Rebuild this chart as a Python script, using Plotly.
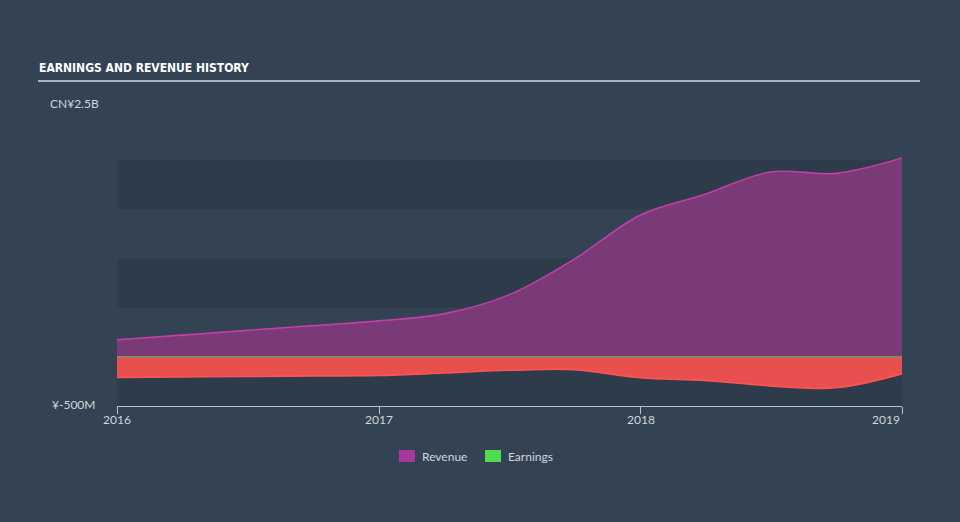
import plotly.graph_objects as go

# ---- data ----
dates = ["2016-01-01", "2016-04-01", "2016-07-01", "2016-10-01",
         "2017-01-01", "2017-04-01", "2017-07-01", "2017-10-01",
         "2018-01-01", "2018-04-01", "2018-07-01", "2018-10-01",
         "2019-01-01"]
revenue = [173, 221, 269, 317, 366, 437, 630, 996, 1443, 1653, 1880, 1866, 2022]
earnings = [-210, -205, -200, -194, -190, -165, -137, -130, -213, -240, -295, -315, -173]
tick_dates = ["2016-01-01", "2017-01-01", "2018-01-01", "2019-01-01"]
tick_labels = ["2016", "2017", "2018", "2019"]
band_ranges = [(-500, 0), (500, 1000), (1500, 2000)]
y_range = [-500, 2500]

W, H = 960, 522
L, R, T, B = 117, 58, 111, 116
PW, PH = W - L - R, H - T - B


def px(x):
    return (x - L) / PW


def py(y):
    return (H - B - y) / PH


BG = "#334353"
BAND = "#2e3b4a"
TXT = "#d2d6da"
FONT = "Lato"

fig = go.Figure()

fig.add_trace(go.Scatter(
    x=dates, y=revenue, mode="lines", line=dict(color="#c23fa6", width=1.6, shape="spline"),
    fill="tozeroy", fillcolor="#7a3977", showlegend=False, hoverinfo="skip"))
fig.add_trace(go.Scatter(
    x=dates, y=earnings, mode="lines", line=dict(color="#ff5454", width=1.6, shape="spline"),
    fill="tozeroy", fillcolor="#e84f4f", showlegend=False, hoverinfo="skip"))
fig.add_trace(go.Scatter(
    x=[dates[0], dates[-1]], y=[0, 0], mode="lines",
    line=dict(color="#6e9c5c", width=1.5), showlegend=False, hoverinfo="skip"))

shapes = []
for y0, y1 in band_ranges:
    shapes.append(dict(type="rect", xref="paper", yref="y", x0=0, x1=1, y0=y0, y1=y1,
                       fillcolor=BAND, line=dict(width=0), layer="below"))
# title underline
shapes.append(dict(type="line", xref="paper", yref="paper", x0=px(38), x1=px(920),
                   y0=py(81), y1=py(81), line=dict(color="#aab2ba", width=2)))
# legend swatches
shapes.append(dict(type="rect", xref="paper", yref="paper", x0=px(399), x1=px(415),
                   y0=py(462), y1=py(450), fillcolor="#a8379c", line=dict(width=0)))
shapes.append(dict(type="rect", xref="paper", yref="paper", x0=px(485), x1=px(501),
                   y0=py(462), y1=py(450), fillcolor="#4fdc4f", line=dict(width=0)))

annotations = [
    dict(text="<b>EARNINGS AND REVENUE HISTORY</b>", xref="paper", yref="paper",
         x=px(37), y=py(68), xanchor="left", yanchor="middle", showarrow=False,
         font=dict(family="DejaVu Sans Condensed, DejaVu Sans", size=12, color="#ffffff")),
    dict(text="CN¥2.5B", xref="paper", yref="paper", x=px(48), y=py(104),
         xanchor="left", yanchor="middle", showarrow=False,
         font=dict(family=FONT, size=12, color=TXT)),
    dict(text="¥-500M", xref="paper", yref="paper", x=px(50), y=py(404),
         xanchor="left", yanchor="middle", showarrow=False,
         font=dict(family=FONT, size=12, color=TXT)),
    dict(text="Revenue", xref="paper", yref="paper", x=px(420), y=py(456),
         xanchor="left", yanchor="middle", showarrow=False,
         font=dict(family=FONT, size=12, color=TXT)),
    dict(text="Earnings", xref="paper", yref="paper", x=px(506), y=py(456),
         xanchor="left", yanchor="middle", showarrow=False,
         font=dict(family=FONT, size=12, color=TXT)),
]
for d, lab in zip(tick_dates, tick_labels):
    anchor = "right" if d == tick_dates[-1] else "center"
    annotations.append(dict(text=lab, xref="x", yref="paper", x=d, y=py(419),
                            xanchor=anchor, yanchor="middle", showarrow=False,
                            font=dict(family=FONT, size=12, color=TXT)))

fig.update_layout(
    width=W, height=H, margin=dict(l=L, r=R, t=T, b=B),
    paper_bgcolor=BG, plot_bgcolor="rgba(0,0,0,0)",
    shapes=shapes, annotations=annotations, showlegend=False,
    xaxis=dict(type="date", range=[dates[0], dates[-1]], showgrid=False, zeroline=False,
               showline=True, linecolor="#b8c4d0", linewidth=1,
               ticks="outside", ticklen=7, tickcolor="#b8c4d0", tickwidth=1,
               tickvals=tick_dates, showticklabels=False),
    yaxis=dict(range=y_range, showgrid=False, zeroline=False, showticklabels=False,
               showline=False),
)

fig.write_html("out.html")
